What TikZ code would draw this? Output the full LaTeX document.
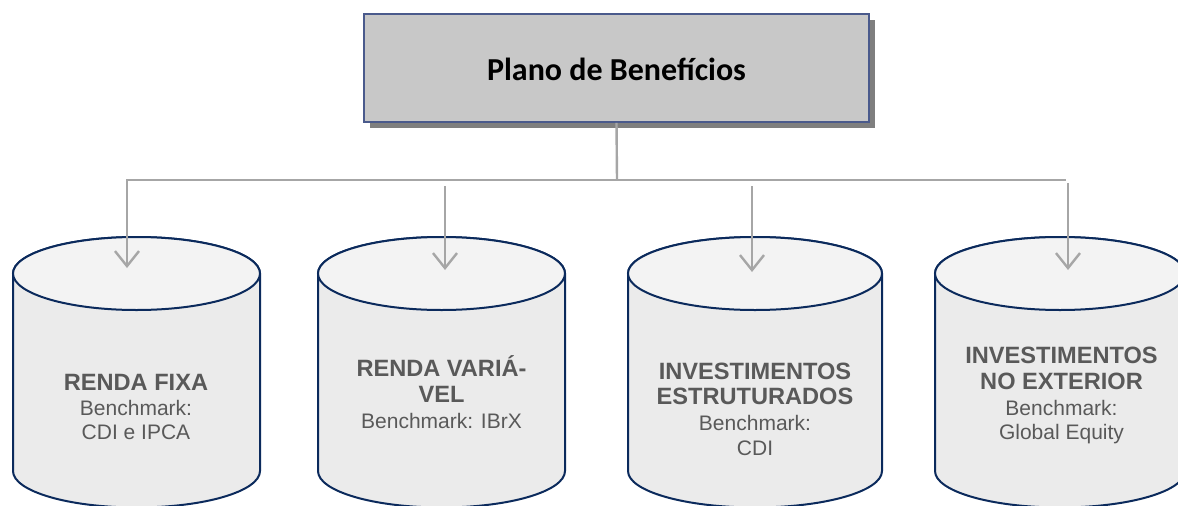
\documentclass[tikz,border=0pt]{standalone}
\usepackage{fontspec}
\setmainfont{Liberation Sans}
\newfontfamily\titlefont{Carlito}
\usetikzlibrary{arrows.meta,shadows}
\definecolor{navy}{HTML}{0B2A5C}
\definecolor{txtgrey}{HTML}{595959}
\definecolor{linegrey}{HTML}{A6A6A6}
\definecolor{boxfill}{HTML}{C8C8C8}
\definecolor{boxedge}{HTML}{4A5A8C}
\definecolor{bodyfill}{HTML}{EBEBEB}
\definecolor{topfill}{HTML}{F3F3F3}
\definecolor{shadowgrey}{HTML}{7F7F7F}
\newcommand{\drawdrum}[2]{%
  \path[drumbody] ({#1-#2},-273.5) -- ({#1-#2},-471)
    arc[start angle=180,end angle=360,x radius=#2pt,y radius=36.5pt]
    -- ({#1+#2},-273.5)
    arc[start angle=0,end angle=180,x radius=#2pt,y radius=36.5pt] -- cycle;
  \path[drumtop] (#1,-273.5) ellipse[x radius=#2pt,y radius=36.5pt];
}
\tikzset{
  drumbody/.style={fill=bodyfill,draw=navy,line width=2pt,line join=round},
  drumtop/.style={fill=topfill,draw=navy,line width=2pt},
  titlebox/.style={fill=boxfill,draw=boxedge,line width=1.6pt,
    minimum width=505pt,minimum height=108pt,inner sep=0pt,
    text height=24pt,text depth=0pt,
    font=\titlefont\bfseries\fontsize{32}{36}\selectfont,
    general shadow={fill=shadowgrey,shadow xshift=6pt,shadow yshift=-6pt}},
  conn/.style={draw=linegrey,line width=2.4pt},
  arr/.style={conn,-{Straight Barb[length=15pt,width=24pt]}},
  txt/.style={text=txtgrey,anchor=base,inner sep=0pt,font=\fontsize{21}{25}\selectfont},
  hd/.style={text=txtgrey,anchor=base,inner sep=0pt,font=\fontsize{23.6}{27}\selectfont\bfseries}
}
\begin{document}
\begin{tikzpicture}[x=1pt,y=1pt]
\useasboundingbox (0,0) rectangle (1178,-506);
% title
\node[titlebox] (title) at (616.5,-68) {Plano de Benefícios};
% cylinders
\drawdrum{136.5}{123.5}
\drawdrum{441.5}{123.5}
\drawdrum{755}{127}
\drawdrum{1060}{125}
% connector coordinates
\coordinate (j) at (617,-180);
\coordinate (h1) at (127,-180);
\coordinate (h4) at (1066,-180);
\coordinate (s2) at (445,-186);
\coordinate (s3) at (752,-186);
\coordinate (s4) at (1068,-183);
\coordinate (a1) at (127,-268);
\coordinate (a2) at (445,-270);
\coordinate (a3) at (752,-272);
\coordinate (a4) at (1068,-270);
\draw[conn] (title.south) -- (j);
\draw[arr] (h4) -- (h1) -- (a1);
\draw[arr] (s2) -- (a2);
\draw[arr] (s3) -- (a3);
\draw[arr] (s4) -- (a4);
% texts
\node[hd] (t1a) at (136,-390) {RENDA FIXA};
\node[txt] (t1b) at (136,-415) {Benchmark:};
\node[txt] (t1c) at (136,-439) {CDI e IPCA};
\node[hd] (t2a) at (441.5,-376) {RENDA VARIÁ-};
\node[hd] (t2b) at (441.5,-402) {VEL};
\node[txt] (t2c) at (441.5,-428) {Benchmark: IBrX};
\node[hd] (t3a) at (755,-379) {INVESTIMENTOS};
\node[hd] (t3b) at (755,-404) {ESTRUTURADOS};
\node[txt] (t3c) at (755,-430) {Benchmark:};
\node[txt] (t3d) at (755,-455) {CDI};
\node[hd] (t4a) at (1061.5,-363) {INVESTIMENTOS};
\node[hd] (t4b) at (1061.5,-389) {NO EXTERIOR};
\node[txt] (t4c) at (1061.5,-415) {Benchmark:};
\node[txt] (t4d) at (1061.5,-439) {Global Equity};
\end{tikzpicture}
\end{document}
